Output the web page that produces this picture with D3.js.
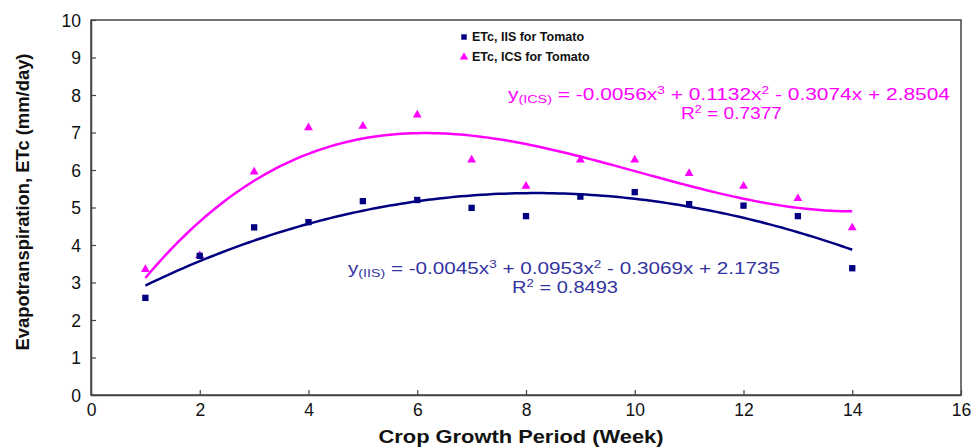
<!DOCTYPE html>
<html>
<head>
<meta charset="utf-8">
<script src="https://cdn.jsdelivr.net/npm/d3@7"></script>
<style>
  body { margin: 0; background: #fff; }
  text { font-family: "Liberation Sans", Arial, sans-serif; }
</style>
</head>
<body>
<div id="chart"></div>
<script>
var weeks = [1, 2, 3, 4, 5, 6, 7, 8, 9, 10, 11, 12, 13, 14]
var etcIIS = [2.59, 3.71, 4.47, 4.61, 5.17, 5.2, 4.99, 4.77, 5.29, 5.41, 5.09, 5.05, 4.77, 3.38]
var etcICS = [3.35, 3.72, 5.95, 7.13, 7.17, 7.47, 6.27, 5.57, 6.27, 6.27, 5.91, 5.57, 5.24, 4.46]
var xTicks = [0, 2, 4, 6, 8, 10, 12, 14, 16]
var yTicks = [0, 1, 2, 3, 4, 5, 6, 7, 8, 9, 10]

var svg_width = 971,
    svg_height = 448,
    margin = { top: 20, right: 10, bottom: 53, left: 91 },
    chart_width = svg_width - margin.left - margin.right,
    chart_height = svg_height - margin.top - margin.bottom

var svg = d3.select("#chart")
  .append("svg")
  .attr("width", svg_width)
  .attr("height", svg_height)

var g = svg.append("g")
  .attr("transform", "translate(" + margin.left + "," + margin.top + ")")

var xScale = d3.scaleLinear().domain([0, 16]).range([0, chart_width])
var yScale = d3.scaleLinear().domain([0, 10]).range([chart_height, 0])

// frame
g.append("rect")
  .attr("width", chart_width)
  .attr("height", chart_height)
  .attr("fill", "none")
  .attr("stroke", "#444")
  .attr("stroke-width", 1.5)

var xAxis = g.append("g")
  .attr("transform", "translate(0," + chart_height + ")")
  .call(d3.axisBottom(xScale).tickValues(xTicks).tickSizeInner(-5).tickSizeOuter(0).tickPadding(9))
var yAxis = g.append("g")
  .call(d3.axisLeft(yScale).tickValues(yTicks).tickSizeInner(-5).tickSizeOuter(0).tickPadding(10))

;[xAxis, yAxis].forEach(a => {
  a.select(".domain").attr("stroke", "#444").attr("stroke-width", 1.5)
  a.selectAll(".tick line").attr("stroke", "#444").attr("stroke-width", 1.2)
  a.selectAll(".tick text")
    .attr("font-size", 17.5)
    .attr("fill", "#111")
    .style("font-family", "'Liberation Sans', Arial, sans-serif")
})
yAxis.selectAll(".tick text").attr("dy", "0.36em")

// least squares cubic, like the spreadsheet trendline
function cubicFit(xs, ys) {
  var n = 4, A = [], b = []
  for (var i = 0; i < n; i++) {
    A.push([])
    for (var j = 0; j < n; j++) A[i].push(d3.sum(xs, x => Math.pow(x, i + j)))
    b.push(d3.sum(xs, (x, k) => ys[k] * Math.pow(x, i)))
  }
  for (var c = 0; c < n; c++) {
    for (var r = c + 1; r < n; r++) {
      var f = A[r][c] / A[c][c]
      for (var k = c; k < n; k++) A[r][k] -= f * A[c][k]
      b[r] -= f * b[c]
    }
  }
  var coef = [0, 0, 0, 0]
  for (var r = n - 1; r >= 0; r--) {
    var s = b[r]
    for (var k = r + 1; k < n; k++) s -= A[r][k] * coef[k]
    coef[r] = s / A[r][r]
  }
  return x => coef[0] + coef[1] * x + coef[2] * x * x + coef[3] * x * x * x
}

var line = d3.line().x(d => xScale(d[0])).y(d => yScale(d[1]))
var xs = d3.range(1, 14.001, 0.1)

var series = [
  { vals: etcICS, color: "#ff00ff", symbol: d3.symbolTriangle, size: 34 },
  { vals: etcIIS, color: "#000080", symbol: d3.symbolSquare, size: 40 }
]

series.forEach(s => {
  var f = cubicFit(weeks, s.vals)
  g.append("path")
    .datum(xs.map(x => [x, f(x)]))
    .attr("d", line)
    .attr("fill", "none")
    .attr("stroke", s.color)
    .attr("stroke-width", 2.5)
})

series.forEach(s => {
  g.append("g")
    .selectAll("path")
    .data(weeks)
    .enter()
    .append("path")
    .attr("transform", (d, i) => "translate(" + xScale(d) + "," + yScale(s.vals[i]) + ")")
    .attr("d", d3.symbol().type(s.symbol).size(s.size))
    .attr("fill", s.color)
})

// legend
var legend = svg.append("g").attr("transform", "translate(464,37)")
var legItems = [
  { label: "ETc, IIS for Tomato", color: "#000080", symbol: d3.symbolSquare },
  { label: "ETc, ICS for Tomato", color: "#ff00ff", symbol: d3.symbolTriangle }
]
legItems.forEach((l, i) => {
  legend.append("path")
    .attr("transform", "translate(0," + (i * 20) + ")")
    .attr("d", d3.symbol().type(l.symbol).size(30))
    .attr("fill", l.color)
  legend.append("text")
    .attr("x", 8)
    .attr("y", i * 20)
    .attr("dy", "0.35em")
    .attr("font-size", 12.5)
    .attr("font-weight", "bold")
    .attr("fill", "#111")
    .text(l.label)
})

// equations
function equation(x, y, color, sub, rest, len, r2, r2x, r2len) {
  var t = svg.append("text")
    .attr("x", x).attr("y", y)
    .attr("fill", color)
    .attr("font-size", 16)
    .attr("textLength", len)
    .attr("lengthAdjust", "spacingAndGlyphs")
  t.append("tspan").text("y")
  t.append("tspan").attr("font-size", 11).attr("dy", 3).text("(" + sub + ")")
  t.append("tspan").attr("dy", -3).text(rest[0])
  t.append("tspan").attr("font-size", 10.5).attr("dy", -6).text("3")
  t.append("tspan").attr("dy", 6).text(rest[1])
  t.append("tspan").attr("font-size", 10.5).attr("dy", -6).text("2")
  t.append("tspan").attr("dy", 6).text(rest[2])
  var r = svg.append("text")
    .attr("x", r2x).attr("y", y + 19)
    .attr("fill", color)
    .attr("font-size", 16)
    .attr("textLength", r2len)
    .attr("lengthAdjust", "spacingAndGlyphs")
  r.append("tspan").text("R")
  r.append("tspan").attr("font-size", 10.5).attr("dy", -6).text("2")
  r.append("tspan").attr("dy", 6).text(" = " + r2)
}
equation(508, 100, "#ff00ff", "ICS", [" = -0.0056x", " + 0.1132x", " - 0.3074x + 2.8504"], 442, "0.7377", 681, 101)
equation(348, 274, "#3434a0", "IIS", [" = -0.0045x", " + 0.0953x", " - 0.3069x + 2.1735"], 432, "0.8493", 512, 106)

// axis titles
svg.append("text")
  .attr("x", margin.left + chart_width / 2 - 5)
  .attr("y", 443)
  .attr("text-anchor", "middle")
  .attr("font-size", 18)
  .attr("font-weight", "bold")
  .attr("fill", "#111")
  .attr("textLength", 285)
  .attr("lengthAdjust", "spacingAndGlyphs")
  .text("Crop Growth Period (Week)")

svg.append("text")
  .attr("transform", "translate(29,202) rotate(-90)")
  .attr("text-anchor", "middle")
  .attr("font-size", 18)
  .attr("font-weight", "bold")
  .attr("fill", "#111")
  .attr("textLength", 297)
  .attr("lengthAdjust", "spacingAndGlyphs")
  .text("Evapotranspiration, ETc (mm/day)")
</script>
</body>
</html>
